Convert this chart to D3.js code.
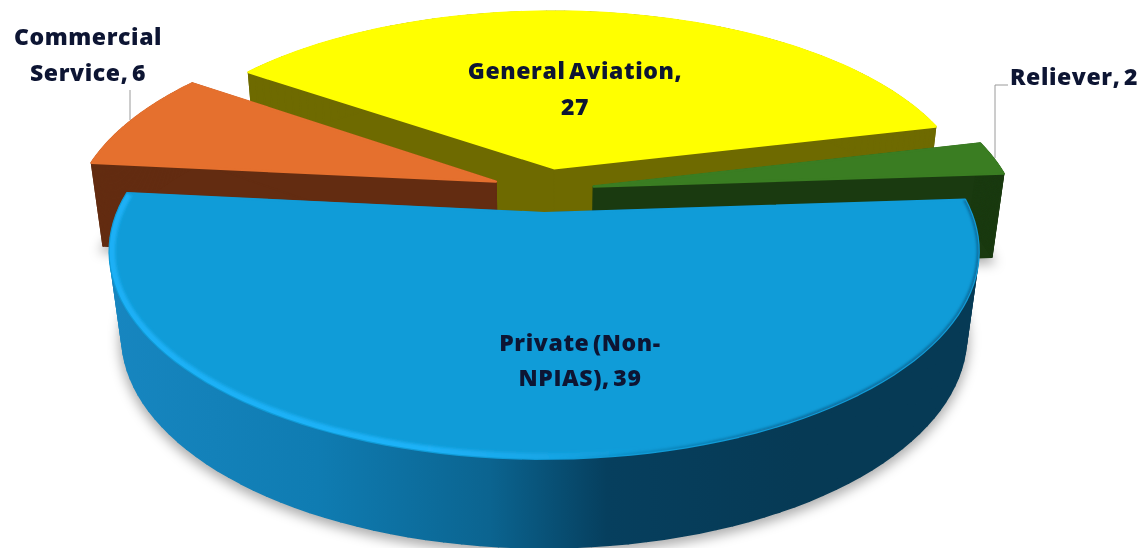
<!DOCTYPE html>
<html>
<head>
<meta charset="utf-8">
<script src="https://cdn.jsdelivr.net/npm/d3@7"></script>
<style>
  html, body { margin: 0; padding: 0; background: #fff; }
  svg { display: block; }
  text { font-family: "Open Sans", sans-serif; font-weight: 800; fill: #0d1533; }
</style>
</head>
<body>
<svg id="chart" width="1143" height="548"></svg>
<script>
// Airport categories and their counts
const categories = ["General Aviation", "Reliever", "Private (Non-NPIAS)", "Commercial Service"];
const values = [27, 2, 39, 6];
const lineBreaks = ["General Aviation,", null, "Private (Non-", "Commercial"];

// Palette per category: top face and wall
const topColors = ["#ffff00", "#3a7d22", "#109cd8", "#e5702e"];
const wallColors = ["#6e6a00", "#1a3a10", "url(#privateWall)", "#632c11"];
const explodeFactor = [1, 1, 1, 1.07];

// Camera and pie geometry
const centerX = 545, centerY = 190;
const radius = 418, depthRadius = 192, perspective = 0.18;
const thickness = 88, sinkX = 0.027, sinkY = 0.047, explode = 0.118;
const firstAngle = -55 * Math.PI / 180;

const svg = d3.select("#chart");
const defs = svg.append("defs");

const wallGrad = defs.append("linearGradient").attr("id", "privateWall")
  .attr("gradientUnits", "userSpaceOnUse").attr("x1", 110).attr("x2", 800).attr("y1", 0).attr("y2", 0);
[[0, "#1786c0"], [0.3, "#0f7cb2"], [0.55, "#0b6490"], [0.72, "#063f5e"], [1, "#063a55"]]
  .forEach(([o, c]) => wallGrad.append("stop").attr("offset", o).attr("stop-color", c));

const bevelGrad = defs.append("linearGradient").attr("id", "bevel")
  .attr("gradientUnits", "userSpaceOnUse").attr("x1", 110).attr("x2", 640).attr("y1", 0).attr("y2", 0);
[[0, "#1cb0f6", 1], [0.6, "#1fb2f8", 1], [1, "#1fb2f8", 0]]
  .forEach(([o, c, a]) => bevelGrad.append("stop").attr("offset", o).attr("stop-color", c).attr("stop-opacity", a));

const shadeGrad = defs.append("linearGradient").attr("id", "rimShade")
  .attr("gradientUnits", "userSpaceOnUse").attr("x1", 560).attr("x2", 800).attr("y1", 0).attr("y2", 0);
[[0, "#0a5f8c", 0], [1, "#0a5f8c", 1]]
  .forEach(([o, c, a]) => shadeGrad.append("stop").attr("offset", o).attr("stop-color", c).attr("stop-opacity", a));

defs.append("filter").attr("id", "shadowBlur").attr("x", "-10%").attr("y", "-10%").attr("width", "120%").attr("height", "120%")
  .append("feGaussianBlur").attr("stdDeviation", 6);
defs.append("filter").attr("id", "softEdge").attr("x", "-5%").attr("y", "-5%").attr("width", "110%").attr("height", "110%")
  .append("feGaussianBlur").attr("stdDeviation", 1.8);

// Projects a ground-plane point (u right, v toward the viewer) at height z (0 top, 1 bottom)
function project(u, v, z) {
  const base = 1 - perspective * v;
  return [centerX + radius * u / (base + sinkX * z),
          centerY + (depthRadius * v + thickness * z) / (base + sinkY * z)];
}

const pie = d3.pie().sort(null).startAngle(firstAngle).endAngle(firstAngle + 2 * Math.PI);
const arcs = pie(values).map((d, i) => {
  const mid = (d.startAngle + d.endAngle) / 2;
  const e = explode * explodeFactor[i];
  return { ...d, i, ox: Math.sin(mid) * e, oy: -Math.cos(mid) * e };
});

const line = d3.line();
const STEPS = 90;
const rim = (d, z) => d3.range(0, STEPS + 1).map(k => {
  const a = d.startAngle + (d.endAngle - d.startAngle) * k / STEPS;
  return project(d.ox + Math.sin(a), d.oy - Math.cos(a), z);
});
const apex = (d, z) => project(d.ox, d.oy, z);
const facePath = (d, z) => line([apex(d, z), ...rim(d, z)]) + "Z";

// One quad per rim step so the wall keeps a true silhouette between top and bottom faces
function wallQuads(d) {
  const top = rim(d, 0), bottom = rim(d, 1);
  const a0 = apex(d, 0), a1 = apex(d, 1);
  const quads = [
    [a0, top[0], bottom[0], a1],
    [a0, top[STEPS], bottom[STEPS], a1]
  ];
  d3.range(0, STEPS).forEach(k => quads.push([top[k], top[k + 1], bottom[k + 1], bottom[k]]));
  return quads;
}

// Ground shadow beneath the slices
svg.append("g").attr("filter", "url(#shadowBlur)").attr("transform", "translate(0,4)")
  .selectAll("path").data(arcs).join("path")
  .attr("d", d => facePath(d, 1)).attr("fill", "#000").attr("stroke", "#000").attr("stroke-width", 5).attr("opacity", 0.32);

// Back slices first, the large front slice last
const order = [0, 3, 1, 2];
const slices = svg.selectAll("g.slice").data(order.map(i => arcs[i])).join("g").attr("class", "slice");

slices.each(function (d) {
  const g = d3.select(this);
  const wall = wallColors[d.i];
  g.selectAll("path.wall").data(wallQuads(d)).join("path").attr("class", "wall")
    .attr("d", w => line(w) + "Z")
    .attr("fill", wall).attr("stroke", wall).attr("stroke-width", 1.6).attr("stroke-linejoin", "round");
  g.append("path").attr("class", "top").attr("d", facePath(d, 0))
    .attr("fill", topColors[d.i]).attr("stroke", topColors[d.i]).attr("stroke-width", 2.4).attr("stroke-linejoin", "round");
});

// Raised rim highlight and shading along the near edge of the largest slice
const largest = arcs[2];
defs.append("clipPath").attr("id", "largestTop").append("path").attr("d", facePath(largest, 0));
const rimGroup = svg.append("g").attr("clip-path", "url(#largestTop)");
rimGroup.append("path").attr("d", line(rim(largest, 0)))
  .attr("fill", "none").attr("stroke", "url(#bevel)").attr("stroke-width", 11)
  .attr("filter", "url(#softEdge)");
rimGroup.append("path").attr("d", line(rim(largest, 0)))
  .attr("fill", "none").attr("stroke", "url(#rimShade)").attr("stroke-width", 3)
  .attr("filter", "url(#softEdge)");

// Leader lines
const leader = [
  [[130, 90], [130, 120]],
  [[1008, 85], [995, 85], [995, 158]]
];
svg.append("g").selectAll("path").data(leader).join("path")
  .attr("d", line).attr("fill", "none").attr("stroke", "#9a9a9a").attr("stroke-width", 1);

// Data labels, placed beside their slices
const labelSpots = [
  { x: 575, y: 79 }, { x: 1074, y: 85 }, { x: 580, y: 351 }, { x: 88, y: 45 }
];
const lineGap = [36, 0, 35, 36];
arcs.forEach(d => {
  const full = `${categories[d.i]}, ${values[d.i]}`;
  const head = lineBreaks[d.i];
  const rows = head ? [head, full.slice(head.length).trim()] : [full];
  svg.append("g").selectAll("text").data(rows).join("text")
    .attr("x", labelSpots[d.i].x)
    .attr("y", (r, j) => labelSpots[d.i].y + j * lineGap[d.i])
    .attr("text-anchor", "middle")
    .attr("font-size", 23).attr("letter-spacing", 0.6).attr("word-spacing", -3)
    .text(r => r);
});
</script>
</body>
</html>
